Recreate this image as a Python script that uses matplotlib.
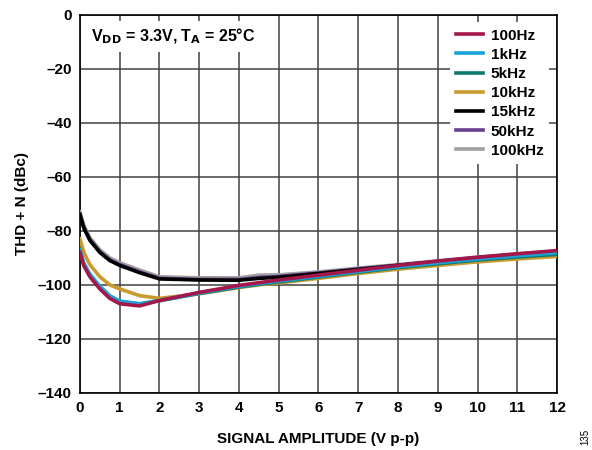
import matplotlib
matplotlib.use('Agg')
import matplotlib.pyplot as plt

plt.rcParams['font.family'] = ['Liberation Sans', 'DejaVu Sans']

amp = [0, 0.1, 0.25, 0.5, 0.75, 1, 1.5, 2, 3, 4, 4.5, 5, 6, 7, 8, 9, 10, 11, 12]

thd_100hz = [-88, -93, -97, -101.5, -105, -107, -107.8, -105.8, -102.8, -100.2, -99.2, -98.2, -96.4, -94.6, -92.8, -91.2, -89.8, -88.5, -87.3]
thd_1khz = [-87, -92, -96, -100.5, -104, -106, -107, -105.8, -103, -100.5, -99.5, -98.6, -96.8, -95, -93.3, -91.8, -90.4, -89.2, -88.1]
thd_5khz = [-87.5, -92.5, -96.5, -101, -104.3, -106.2, -107.1, -105.9, -103.2, -100.8, -99.8, -98.9, -97.1, -95.3, -93.6, -92.2, -90.8, -89.7, -88.7]
thd_10khz = [-83, -88, -92.5, -97, -100, -101.5, -104, -105, -103.3, -101, -100, -99.3, -97.6, -95.8, -94.2, -92.8, -91.5, -90.4, -89.5]
thd_15khz = [-74, -79, -83.5, -88, -91, -92.8, -95.5, -97.8, -98.2, -98.3, -97.6, -97.2, -95.8, -94.3, -92.8, -91.4, -90, -88.8, -87.8]
thd_50khz = [-73.8, -78.8, -83.2, -87.7, -90.7, -92.5, -95.2, -97.6, -98, -98, -97.3, -96.9, -95.6, -94.1, -92.7, -91.3, -89.9, -88.7, -87.7]
thd_100khz = [-73, -78, -82.5, -87, -90, -91.8, -94.5, -97, -97.4, -97.4, -96.4, -96.3, -95.2, -93.8, -92.5, -91.1, -89.7, -88.5, -87.5]

labels = ['100Hz', '1kHz', '5kHz', '10kHz', '15kHz', '50kHz', '100kHz']
series = [thd_100hz, thd_1khz, thd_5khz, thd_10khz, thd_15khz, thd_50khz, thd_100khz]
colors = ['#A3174A', '#1AA3D9', '#0F7B6F', '#C99A2E', '#000000', '#6A3E8E', '#A0A0A0']
zorders = [9, 8, 7, 6, 5, 4, 3]

fig = plt.figure(figsize=(5.92, 4.5), dpi=100)
ax = fig.add_axes([0.135, 0.127, 0.806, 0.84])

for y, lab, c, z in zip(series, labels, colors, zorders):
    ax.plot(amp, y, color=c, lw=2.6, label=lab, zorder=z)

ax.set_xlim(0, 12)
ax.set_ylim(-140, 0)
ax.set_xticks(range(0, 13))
ax.set_yticks(range(-140, 1, 20))
ax.set_yticklabels([str(v).replace('-', '\u2013') for v in range(-140, 1, 20)])
ax.tick_params(labelsize=11, length=0, pad=6)
for t in ax.get_xticklabels() + ax.get_yticklabels():
    t.set_fontweight('bold')
ax.grid(True, color='#404040', lw=1.1)
for s in ax.spines.values():
    s.set_linewidth(1.2)

ax.set_xlabel('SIGNAL AMPLITUDE (V p-p)', fontsize=11, fontweight='bold', labelpad=12)
ax.set_ylabel('THD + N (dBc)', fontsize=11, fontweight='bold', labelpad=6)

ax.text(0.27, -4.5, r'V$_{\mathbf{DD}}$ = 3.3V, T$_{\mathbf{A}}$ = 25°C', fontsize=11.5, fontweight='bold',
        va='top', ha='left', zorder=10,
        bbox=dict(facecolor='white', edgecolor='none', pad=4))

leg = ax.legend(loc='upper right', fontsize=11, frameon=True, handlelength=1.75,
                handletextpad=0.5, labelspacing=0.34, borderaxespad=0.5, fancybox=False)
leg.get_frame().set_edgecolor('none')
leg.get_frame().set_alpha(1)
leg.set_zorder(10)
for t in leg.get_texts():
    t.set_fontweight('bold')

fig.text(0.988, 0.03, '135', rotation=90, fontsize=7, ha='center', va='center')

fig.savefig('out.png', dpi=100)
